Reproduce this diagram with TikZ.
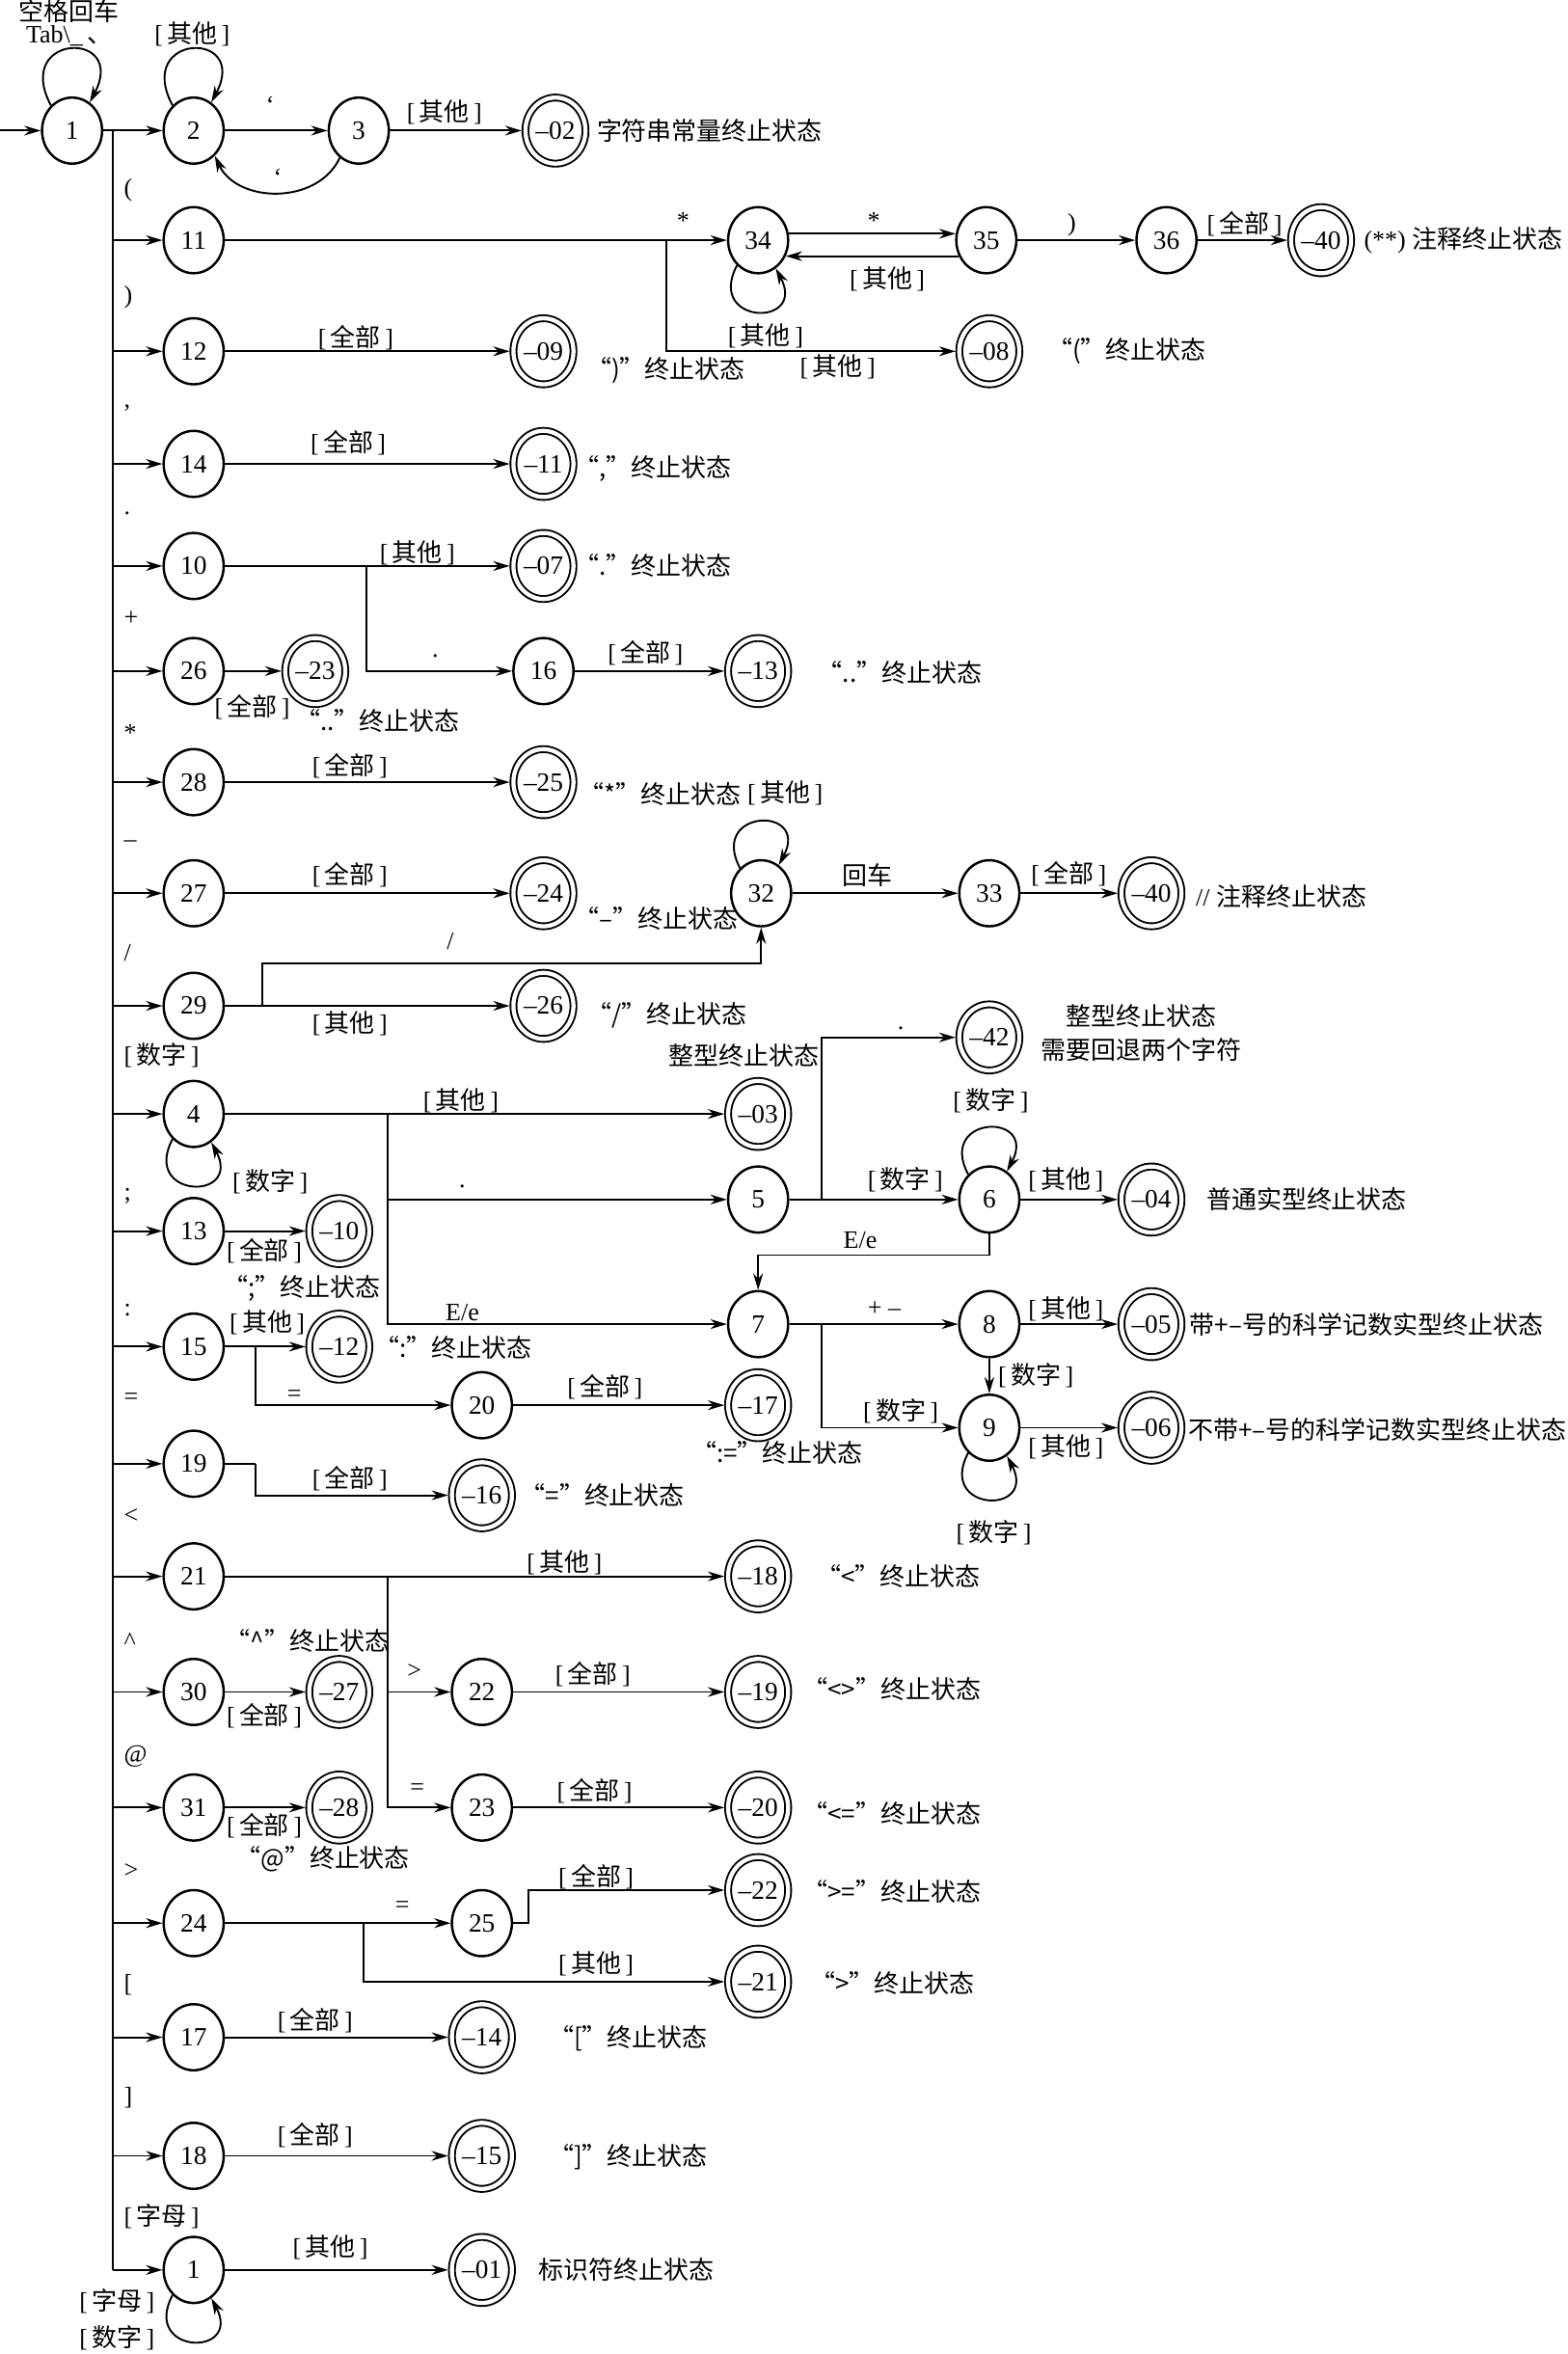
\documentclass[tikz,border=0pt]{standalone}
\usepackage{fontspec}
\setmainfont{Liberation Serif}
\newfontfamily\cjk{Noto Sans CJK SC}
\usetikzlibrary{arrows.meta, shapes.geometric}

\newcommand{\zh}[1]{{\cjk #1}}
\newcommand{\chcls}[1]{[\,\zh{#1}\,]}

\tikzset{
  state/.style={draw, ellipse, line width=0.9pt, minimum width=8mm, minimum height=8.8mm,
    inner sep=0pt, font=\fontsize{10}{10}\selectfont},
  final/.style={state, double, double distance=0.55mm, line width=0.7pt, outer sep=0.5mm},
  lbl/.style={inner sep=0pt},
  note/.style={lbl, anchor=west},
}

\begin{document}
\begin{tikzpicture}[x=0.2mm, y=-0.2mm, >={Stealth[length=2.2mm,width=1.3mm]},
  line width=0.7pt, font=\fontsize{9.5}{11}\selectfont]
  \useasboundingbox (0,0) rectangle (1044,1568);

  % string constant
  \coordinate (start) at (0,87);
  \node[state] (s1) at (48,87) {1};
  \node[state] (s2) at (129,87) {2};
  \node[state] (s3) at (239,87) {3};
  \node[final] (f02) at (370,87) {--02};
  \draw[->] (start) -- (s1);
  \draw[->] (s1) -- (s2);
  \draw[->] (s2) -- (s3);
  \draw[->] (s3) -- (f02);
  \draw[->] (s3.235) .. controls +(-115:7mm) and +(-65:7mm) .. (s2.-50);
  \draw[->] (s1.130) .. controls +(118:11mm) and +(62:11mm) .. (s1.58);
  \draw[->] (s2.130) .. controls +(118:11mm) and +(62:11mm) .. (s2.58);
  \node[lbl, align=center, font=\fontsize{9.5}{9.5}\selectfont] (w1) at (46,15)
    {\zh{空格回车}\\[-1pt]Tab\textbackslash\_\,\zh{、}};
  \node[lbl] (w2) at (128,23) {\chcls{其他}};
  \node[lbl] (q23) at (180,70) {‘};
  \node[lbl] (q32) at (185,118) {‘};
  \node[lbl] (o3) at (296,75) {\chcls{其他}};
  \node[note] (t02) at (397,87) {\zh{字符串常量终止状态}};

  % trunk
  \coordinate (ttop) at (75,87);
  \node[state] (s11) at (129,160) {11};
  \node[state] (s12) at (129,234) {12};
  \node[state] (s14) at (129,309) {14};
  \node[state] (s10) at (129,377) {10};
  \node[state] (s26) at (129,447) {26};
  \node[state] (s28) at (129,521) {28};
  \node[state] (s27) at (129,595) {27};
  \node[state] (s29) at (129,670) {29};
  \node[state] (s4) at (129,742) {4};
  \node[state] (s13) at (129,820) {13};
  \node[state] (s15) at (129,897) {15};
  \node[state] (s19) at (129,975) {19};
  \node[state] (s21) at (129,1050) {21};
  \node[state] (s30) at (129,1127) {30};
  \node[state] (s31) at (129,1204) {31};
  \node[state] (s24) at (129,1281) {24};
  \node[state] (s17) at (129,1357) {17};
  \node[state] (s18) at (129,1436) {18};
  \node[state] (s1b) at (129,1512) {1};
  \draw (ttop) -- (ttop |- s1b);
  \foreach \n in {11,12,14,10,26,28,27,29,4,13,15,19,21,30,31,24,17,18,1b}
    \draw[->] (ttop |- s\n) -- (s\n);
  \node[note] (k11) at (82,127) {(};
  \node[note] (k12) at (82,198) {)};
  \node[note] (k14) at (82,272) {,};
  \node[note] (k10) at (82,342) {.};
  \node[note] (k26) at (82,412) {+};
  \node[note] (k28) at (82,488) {*};
  \node[note] (k27) at (82,562) {--};
  \node[note] (k29) at (82,635) {/};
  \node[note] (k4) at (82,703) {\chcls{数字}};
  \node[note] (k13) at (82,797) {;};
  \node[note] (k15) at (82,873) {:};
  \node[note] (k19) at (82,932) {=};
  \node[note] (k21) at (82,1010) {<};
  \node[note] (k30) at (82,1093) {\textasciicircum};
  \node[note] (k31) at (82,1170) {@};
  \node[note] (k24) at (82,1246) {>};
  \node[note] (k17) at (82,1322) {[};
  \node[note] (k18) at (82,1397) {]};
  \node[note] (k1b) at (82,1476) {\chcls{字母}};

  % comments (* *)
  \node[state] (s34) at (505,160) {34};
  \node[state] (s35) at (657,160) {35};
  \node[state] (s36) at (777,160) {36};
  \node[final] (f40a) at (880,160) {--40};
  \node[final] (f08) at (659,234) {--08};
  \coordinate (b11) at (444,160);
  \draw[->] (s11) -- (s34);
  \draw[->] (b11) |- (f08);
  \draw[->] (s34.12) -- (s35.168);
  \draw[->] (s35.210) -- (s34.-30);
  \draw[->] (s34.230) .. controls +(-118:9mm) and +(-62:9mm) .. (s34.-58);
  \draw[->] (s35) -- (s36);
  \draw[->] (s36) -- (f40a);
  \node[lbl] (o11) at (455,147) {*};
  \node[lbl] (o34) at (582,147) {*};
  \node[lbl] (o35) at (591,186) {\chcls{其他}};
  \node[lbl] (w34) at (510,224) {\chcls{其他}};
  \node[lbl] (o08) at (558,244) {\chcls{其他}};
  \node[lbl] (o36) at (714,150) {)};
  \node[lbl] (o40a) at (829,149) {\chcls{全部}};
  \node[note] (t40a) at (908,160) {(**) \zh{注释终止状态}};
  \node[note] (t08) at (697,234) {\zh{“(”终止状态}};

  % ) , .
  \node[final] (f09) at (362,234) {--09};
  \draw[->] (s12) -- (f09);
  \node[lbl] (o12) at (237,225) {\chcls{全部}};
  \node[note] (t09) at (390,247) {\zh{“)”终止状态}};
  \node[final] (f11) at (362,309) {--11};
  \draw[->] (s14) -- (f11);
  \node[lbl] (o14) at (232,295) {\chcls{全部}};
  \node[note] (t11) at (382,312) {\zh{“,”终止状态}};
  \node[final] (f07) at (362,377) {--07};
  \node[state] (s16) at (362,447) {16};
  \node[final] (f13) at (505,447) {--13};
  \coordinate (b10) at (244,377);
  \draw[->] (s10) -- (f07);
  \draw[->] (b10) |- (s16);
  \draw[->] (s16) -- (f13);
  \node[lbl] (o10) at (278,368) {\chcls{其他}};
  \node[lbl] (o16) at (290,437) {.};
  \node[lbl] (o13) at (430,435) {\chcls{全部}};
  \node[note] (t07) at (382,377) {\zh{“.”终止状态}};
  \node[note] (t13) at (544,448) {\zh{“..”终止状态}};

  % + * -
  \node[final] (f23) at (210,447) {--23};
  \draw[->] (s26) -- (f23);
  \node[lbl] (o26) at (168,471) {\chcls{全部}};
  \node[note] (t23) at (196,480) {\zh{“..”终止状态}};
  \node[final] (f25) at (362,521) {--25};
  \draw[->] (s28) -- (f25);
  \node[lbl] (o28) at (233,510) {\chcls{全部}};
  \node[note] (t25) at (385,529) {\zh{“*”终止状态}};
  \node[final] (f24) at (362,595) {--24};
  \draw[->] (s27) -- (f24);
  \node[lbl] (o27) at (233,583) {\chcls{全部}};
  \node[note] (t24) at (382,612) {\zh{“–”终止状态}};

  % comments //
  \node[state] (s32) at (507,595) {32};
  \node[state] (s33) at (659,595) {33};
  \node[final] (f40b) at (767,595) {--40};
  \node[final] (f26) at (362,670) {--26};
  \coordinate (b29) at (175,670);
  \coordinate (c29) at (507,642);
  \draw[->] (s29) -- (f26);
  \draw[->] (b29) |- (c29) -- (s32);
  \draw[->] (s32) -- (s33);
  \draw[->] (s33) -- (f40b);
  \draw[->] (s32.130) .. controls +(118:9mm) and +(62:9mm) .. (s32.58);
  \node[lbl] (w32) at (523,528) {\chcls{其他}};
  \node[lbl] (o29) at (300,627) {/};
  \node[lbl] (o26b) at (233,682) {\chcls{其他}};
  \node[lbl] (o32) at (578,583) {\zh{回车}};
  \node[lbl] (o33) at (712,582) {\chcls{全部}};
  \node[note] (t40b) at (796,597) {// \zh{注释终止状态}};
  \node[note] (t26) at (390,676) {\zh{“/”终止状态}};

  % numbers
  \node[final] (f03) at (505,742) {--03};
  \node[state] (s5) at (505,799) {5};
  \node[state] (s6) at (659,799) {6};
  \node[final] (f04) at (767,799) {--04};
  \node[final] (f42) at (659,691) {--42};
  \node[state] (s7) at (505,882) {7};
  \node[state] (s8) at (659,882) {8};
  \node[final] (f05) at (767,882) {--05};
  \node[state] (s9) at (659,951) {9};
  \node[final] (f06) at (767,951) {--06};
  \coordinate (b4) at (258,742);
  \coordinate (b5) at (547,799);
  \coordinate (b7) at (547,882);
  \coordinate (c67) at (585,836);
  \draw[->] (s4) -- (f03);
  \draw[->] (b4) |- (s5);
  \draw[->] (b4) |- (s7);
  \draw[->] (s5) -- (s6);
  \draw[->] (b5) |- (f42);
  \draw[->] (s6) -- (f04);
  \draw[->] (s6) |- (c67) -| (s7);
  \draw[->] (s7) -- (s8);
  \draw[->] (b7) |- (s9);
  \draw[->] (s8) -- (s9);
  \draw[->] (s8) -- (f05);
  \draw[->] (s9) -- (f06);
  \draw[->] (s4.230) .. controls +(-118:9mm) and +(-62:9mm) .. (s4.-58);
  \draw[->] (s6.130) .. controls +(118:9mm) and +(62:9mm) .. (s6.58);
  \draw[->] (s9.230) .. controls +(-118:9mm) and +(-62:9mm) .. (s9.-58);
  \node[lbl] (o4) at (307,733) {\chcls{其他}};
  \node[lbl] (w4) at (180,787) {\chcls{数字}};
  \node[lbl] (o4b) at (308,790) {.};
  \node[lbl] (o4c) at (308,874) {E/e};
  \node[lbl] (o5) at (603,786) {\chcls{数字}};
  \node[lbl] (o5b) at (600,685) {.};
  \node[lbl] (w6) at (660,733) {\chcls{数字}};
  \node[lbl] (o6) at (710,786) {\chcls{其他}};
  \node[lbl] (o6b) at (573,826) {E/e};
  \node[lbl] (o7) at (589,872) {+ --};
  \node[lbl] (o7b) at (600,940) {\chcls{数字}};
  \node[lbl] (o8) at (690,916) {\chcls{数字}};
  \node[lbl] (o8b) at (710,872) {\chcls{其他}};
  \node[lbl] (o9) at (710,964) {\chcls{其他}};
  \node[lbl] (w9) at (662,1021) {\chcls{数字}};
  \node[lbl, anchor=east] (t03) at (546,703) {\zh{整型终止状态}};
  \node[lbl] (t42a) at (760,677) {\zh{整型终止状态}};
  \node[lbl] (t42b) at (760,699) {\zh{需要回退两个字符}};
  \node[note] (t04) at (803,799) {\zh{普通实型终止状态}};
  \node[note] (t05) at (792,882) {\zh{带+–号的科学记数实型终止状态}};
  \node[note] (t06) at (791,952) {\zh{不带+–号的科学记数实型终止状态}};

  % ; : =
  \node[final] (f10) at (226,820) {--10};
  \draw[->] (s13) -- (f10);
  \node[lbl] (o13b) at (176,833) {\chcls{全部}};
  \node[lbl] (t10) at (201,858) {\zh{“;”终止状态}};
  \node[final] (f12) at (226,897) {--12};
  \node[state] (s20) at (321,936) {20};
  \node[final] (f17) at (505,936) {--17};
  \coordinate (b15) at (170,897);
  \draw[->] (s15) -- (f12);
  \draw[->] (b15) |- (s20);
  \draw[->] (s20) -- (f17);
  \node[lbl] (o15) at (178,881) {\chcls{其他}};
  \node[lbl] (o15b) at (196,930) {=};
  \node[lbl] (o20) at (403,924) {\chcls{全部}};
  \node[note] (t12) at (249,898) {\zh{“:”终止状态}};
  \node[note] (t17) at (460,968) {\zh{“:=”终止状态}};
  \node[final] (f16) at (321,996) {--16};
  \coordinate (b19) at (170,975);
  \draw (s19) -- (b19);
  \draw[->] (b19) |- (f16);
  \node[lbl] (o19) at (233,985) {\chcls{全部}};
  \node[note] (t16) at (346,996) {\zh{“=”终止状态}};

  % < ^ @
  \node[final] (f18) at (505,1050) {--18};
  \node[state] (s22) at (321,1127) {22};
  \node[final] (f19) at (505,1127) {--19};
  \node[state] (s23) at (321,1204) {23};
  \node[final] (f20) at (505,1204) {--20};
  \coordinate (b21) at (258,1050);
  \draw[->] (s21) -- (f18);
  \draw[->] (b21) |- (s22);
  \draw[->] (b21) |- (s23);
  \draw[->] (s22) -- (f19);
  \draw[->] (s23) -- (f20);
  \node[lbl] (o21) at (376,1041) {\chcls{其他}};
  \node[lbl] (o21b) at (276,1113) {>};
  \node[lbl] (o21c) at (278,1192) {=};
  \node[lbl] (o22) at (395,1115) {\chcls{全部}};
  \node[lbl] (o23) at (396,1193) {\chcls{全部}};
  \node[note] (t18) at (543,1050) {\zh{“<”终止状态}};
  \node[note] (t19) at (534,1125) {\zh{“<>”终止状态}};
  \node[note] (t20) at (534,1208) {\zh{“<=”终止状态}};
  \node[final] (f27) at (226,1127) {--27};
  \draw[->] (s30) -- (f27);
  \node[lbl] (o30) at (176,1143) {\chcls{全部}};
  \node[lbl] (t27) at (205,1093) {\zh{“\textasciicircum”终止状态}};
  \node[final] (f28) at (226,1204) {--28};
  \draw[->] (s31) -- (f28);
  \node[lbl] (o31) at (176,1216) {\chcls{全部}};
  \node[lbl] (t28) at (215,1238) {\zh{“@”终止状态}};

  % >
  \node[state] (s25) at (321,1281) {25};
  \node[final] (f22) at (505,1259) {--22};
  \node[final] (f21) at (505,1320) {--21};
  \coordinate (b24) at (242,1281);
  \coordinate (b25) at (352,1281);
  \draw[->] (s24) -- (s25);
  \draw[->] (b24) |- (f21);
  \draw[->] (s25) -- (b25) |- (f22);
  \node[lbl] (o24) at (268,1270) {=};
  \node[lbl] (o25) at (397,1250) {\chcls{全部}};
  \node[lbl] (o24b) at (397,1308) {\chcls{其他}};
  \node[note] (t22) at (534,1260) {\zh{“>=”终止状态}};
  \node[note] (t21) at (539,1321) {\zh{“>”终止状态}};

  % [ ] identifiers
  \node[final] (f14) at (321,1357) {--14};
  \draw[->] (s17) -- (f14);
  \node[lbl] (o17) at (210,1346) {\chcls{全部}};
  \node[note] (t14) at (365,1358) {\zh{“[”终止状态}};
  \node[final] (f15) at (321,1436) {--15};
  \draw[->] (s18) -- (f15);
  \node[lbl] (o18) at (210,1422) {\chcls{全部}};
  \node[note] (t15) at (365,1437) {\zh{“]”终止状态}};
  \node[final] (f01) at (321,1512) {--01};
  \draw[->] (s1b) -- (f01);
  \draw[->] (s1b.230) .. controls +(-118:9mm) and +(-62:9mm) .. (s1b.-58);
  \node[lbl] (o1b) at (220,1497) {\chcls{其他}};
  \node[lbl] (w1c) at (78,1533) {\chcls{字母}};
  \node[lbl] (w1d) at (78,1557) {\chcls{数字}};
  \node[note] (t01) at (358,1512) {\zh{标识符终止状态}};
\end{tikzpicture}
\end{document}
